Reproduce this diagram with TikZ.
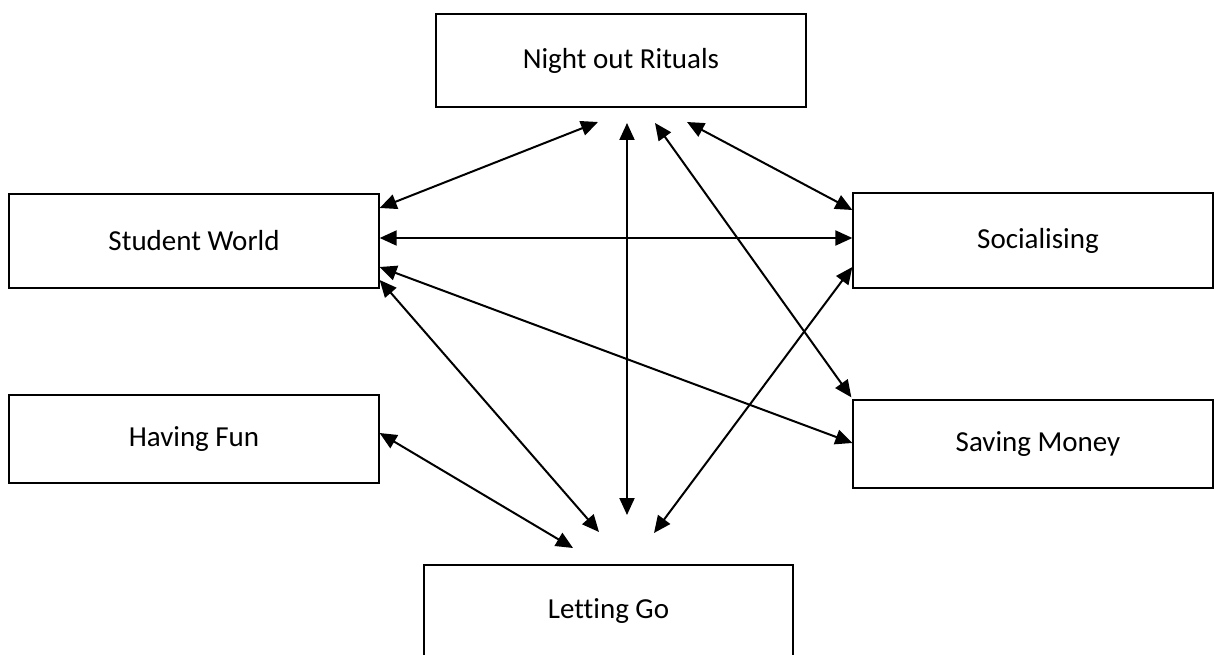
\documentclass[tikz,border=0pt]{standalone}
\usepackage{fontspec}
\setmainfont{Carlito}[Ligatures=NoCommon]
\usetikzlibrary{arrows.meta}
\begin{document}
\begin{tikzpicture}[x=1pt,y=-1pt,
  box/.style={draw=black,line width=1.3pt,fill=white,inner sep=0pt,
    minimum width=370pt,font=\fontsize{29}{34}\selectfont},
  link/.style={line width=2pt,{Triangle[length=17pt,width=15pt]}-{Triangle[length=17pt,width=15pt]}}]
\useasboundingbox (0,0) rectangle (1214,655);
% concept boxes
\node[box,minimum height=93pt] (NR) at (621,60.5) {Night out Rituals};
\node[box,minimum height=94pt] (SW) at (194,241) {Student World};
\node[box,minimum height=88pt] (HF) at (194,439) {Having Fun};
\node[box,minimum width=360pt,minimum height=95pt] (SO) at (1033,240.5) {\hspace{10pt}Socialising};
\node[box,minimum width=360pt,minimum height=88pt] (SM) at (1033,444) {\hspace{10pt}Saving Money};
\node[box,minimum width=369pt,minimum height=93pt] (LG) at (608.5,611.5) {Letting Go};
% free arrow ends under Night out Rituals and above Letting Go
\coordinate (nr1) at (598,122);
\coordinate (nr2) at (627,123);
\coordinate (nr3) at (655,123);
\coordinate (nr4) at (687,122);
\coordinate (lg1) at (573,548);
\coordinate (lg2) at (599,532);
\coordinate (lg3) at (627,515);
\coordinate (lg4) at (654,533);
% relations
\draw[link] ([yshift=33pt]SW.east) -- (nr1);
\draw[link] (nr2) -- (lg3);
\draw[link] (nr3) -- ([xshift=-1pt,yshift=2pt]SM.north west);
\draw[link] (nr4) -- ([yshift=30.5pt]SO.west);
\draw[link] ([yshift=3pt]SW.east) -- ([yshift=2.5pt]SO.west);
\draw[link] ([yshift=-26pt]SW.east) -- ([yshift=1pt]SM.west);
\draw[link] ([yshift=-39pt]SW.east) -- (lg2);
\draw[link] ([yshift=-26.5pt]SO.west) -- (lg4);
\draw[link] ([yshift=6pt]HF.east) -- (lg1);
\end{tikzpicture}
\end{document}
